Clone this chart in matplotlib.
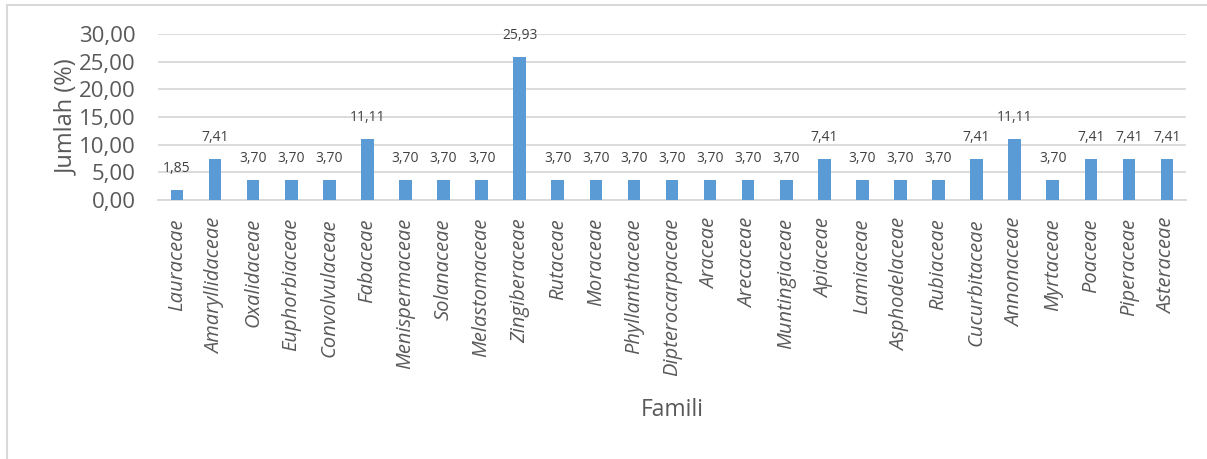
import matplotlib.pyplot as plt
from matplotlib.lines import Line2D
from matplotlib.ticker import FuncFormatter
import numpy as np

famili = ["Lauraceae", "Amaryllidaceae", "Oxalidaceae", "Euphorbiaceae", "Convolvulaceae",
          "Fabaceae", "Menispermaceae", "Solanaceae", "Melastomaceae", "Zingiberaceae",
          "Rutaceae", "Moraceae", "Phyllanthaceae", "Dipterocarpaceae", "Araceae",
          "Arecaceae", "Muntingiaceae", "Apiaceae", "Lamiaceae", "Asphodelaceae",
          "Rubiaceae", "Cucurbitaceae", "Annonaceae", "Myrtaceae", "Poaceae",
          "Piperaceae", "Asteraceae"]
jumlah = [1.85, 7.41, 3.70, 3.70, 3.70, 11.11, 3.70, 3.70, 3.70, 25.93,
          3.70, 3.70, 3.70, 3.70, 3.70, 3.70, 3.70, 7.41, 3.70, 3.70,
          3.70, 7.41, 11.11, 3.70, 7.41, 7.41, 7.41]
yticks = [0, 5, 10, 15, 20, 25, 30]

plt.rcParams['font.family'] = ['Open Sans', 'DejaVu Sans']

W, H = 1207, 459
fig = plt.figure(figsize=(W / 100, H / 100), dpi=100)
ax = fig.add_axes([158 / W, 1 - 200 / H, (1186 - 158) / W, (200 - 34) / H])

x = np.arange(len(famili))
bars = ax.bar(x, jumlah, width=0.33, color="#5B9BD5", zorder=3)

for xi, v in zip(x, jumlah):
    ax.annotate(f"{v:.2f}".replace(".", ","), (xi, v), xytext=(0, 10), textcoords="offset points",
                ha="center", va="bottom", fontsize=10, color="#404040")

ax.set_xlim(-0.5, len(famili) - 0.5)
ax.set_ylim(0, 30)
ax.set_yticks(yticks)
ax.yaxis.set_major_formatter(FuncFormatter(lambda v, p: f"{v:.2f}".replace(".", ",")))
ax.grid(axis="y", color="#D9D9D9", linewidth=1.3, zorder=0)
for s in ["top", "right", "left"]:
    ax.spines[s].set_visible(False)
ax.spines["bottom"].set_color("#D9D9D9")
ax.spines["bottom"].set_linewidth(1.3)

ax.set_xticks(x)
ax.set_xticklabels(famili, rotation=90, style="italic", fontsize=14.5, color="#595959")
ax.tick_params(axis="both", length=0)
ax.tick_params(axis="x", pad=13)
ax.tick_params(axis="y", labelsize=16, labelcolor="#595959", pad=16)

ax.set_ylabel("Jumlah (%)", fontsize=17, color="#595959", labelpad=0)
fig.text(672 / W, 1 - 410 / H, "Famili", ha="center", va="center", fontsize=16.5, color="#595959")

# chart border (only top and left show in the crop)
fig.add_artist(Line2D([7 / W, 7 / W], [0, 1 - 5 / H], transform=fig.transFigure, color="#D9D9D9", linewidth=1.5))
fig.add_artist(Line2D([7 / W, 1], [1 - 5 / H, 1 - 5 / H], transform=fig.transFigure, color="#D9D9D9", linewidth=1.5))

fig.savefig("out.png", dpi=100)
